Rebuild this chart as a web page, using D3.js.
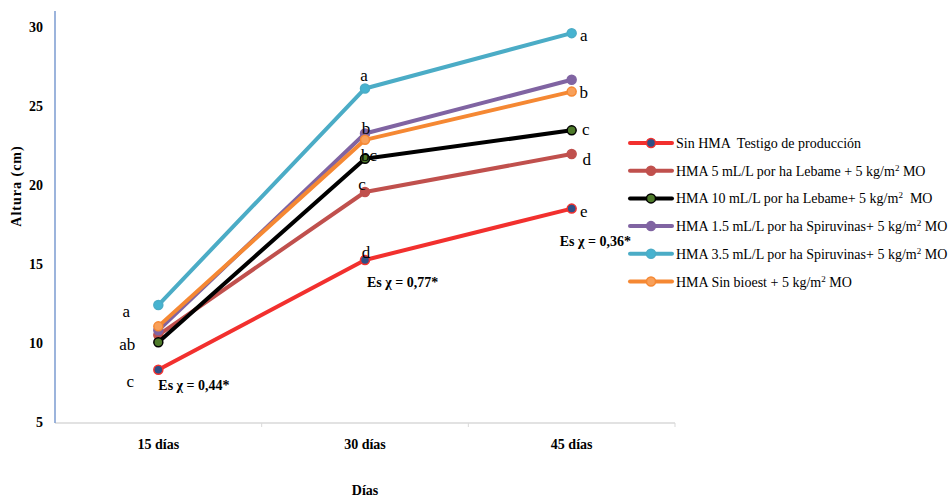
<!DOCTYPE html>
<html>
<head>
<meta charset="utf-8">
<script src="https://cdn.jsdelivr.net/npm/d3@7"></script>
<style>
  body { margin: 0; background: #fff; }
  text { font-family: "Liberation Serif", "Times New Roman", Times, serif; white-space: pre; }
</style>
</head>
<body>
<div id="chart"></div>
<script>
var categories = ["15 días", "30 días", "45 días"];

var seriesNames = [
  "Sin HMA  Testigo de producción",
  "HMA 5 mL/L por ha Lebame + 5 kg/m2 MO",
  "HMA 10 mL/L por ha Lebame+ 5 kg/m2  MO",
  "HMA 1.5 mL/L por ha Spiruvinas+ 5 kg/m2 MO",
  "HMA 3.5 mL/L por ha Spiruvinas+ 5 kg/m2 MO",
  "HMA Sin bioest + 5 kg/m2 MO"
];

var sinHMA     = [8.3, 15.25, 18.5];
var lebame5    = [10.5, 19.55, 21.95];
var lebame10   = [10.05, 21.65, 23.45];
var spiru15    = [10.8, 23.25, 26.65];
var spiru35    = [12.4, 26.1, 29.6];
var sinBioest  = [11.05, 22.85, 25.9];

var yTicks = [5, 10, 15, 20, 25, 30];

var letters15 = ["a", "ab", "c"];
var letters30 = ["a", "b", "bc", "c", "d"];
var letters45 = ["a", "b", "c", "d", "e"];
var esLabels = ["Es χ = 0,44*", "Es χ = 0,77*", "Es χ = 0,36*"];

var lineColors = ["#f2302e", "#c0504d", "#000000", "#8064a2", "#4bacc6", "#f58833"];
var dotFills   = ["#2f4f86", "#c0504d", "#4e7a2a", "#8064a2", "#46b3d0", "#f8a05a"];

var serif = "'Liberation Serif', 'Times New Roman', Times, serif";

var width = 949, height = 498;
var margin = {top: 11, left: 55, right: 274, bottom: 76};

var svg = d3.select("#chart").append("svg")
  .attr("width", width)
  .attr("height", height);

var x = d3.scaleBand()
  .domain(categories)
  .range([margin.left, width - margin.right]);

var y = d3.scaleLinear()
  .domain([5, 31])
  .range([height - margin.bottom, margin.top]);

// x axis line
var xAxis = svg.append("g")
  .attr("transform", "translate(0," + (height - margin.bottom + 1) + ")");
xAxis.append("line")
  .attr("x1", margin.left).attr("x2", width - margin.right)
  .attr("stroke", "#d9d9d9").attr("stroke-width", 1.5);
xAxis.selectAll(".xtick")
  .data(categories.slice(1).concat(["end"])).enter()
  .append("line")
    .attr("x1", function(d, i) { return x.range()[0] + x.bandwidth() * (i + 1); })
    .attr("x2", function(d, i) { return x.range()[0] + x.bandwidth() * (i + 1); })
    .attr("y1", 0).attr("y2", 4)
    .attr("stroke", "#d9d9d9");
xAxis.selectAll(".xlab")
  .data(categories).enter()
  .append("text")
    .attr("x", function(d) { return x(d) + x.bandwidth() / 2; })
    .attr("y", 26)
    .attr("text-anchor", "middle")
    .attr("font-family", serif)
    .attr("font-size", 14)
    .attr("font-weight", "bold")
    .text(function(d) { return d; });

// y axis
svg.append("line")
  .attr("x1", margin.left).attr("x2", margin.left)
  .attr("y1", margin.top).attr("y2", height - margin.bottom + 1)
  .attr("stroke", "#7b9bd1").attr("stroke-width", 1.5);
svg.selectAll(".ylab")
  .data(yTicks).enter()
  .append("text")
    .attr("x", 43)
    .attr("y", function(d) { return y(d) + 5; })
    .attr("text-anchor", "end")
    .attr("font-family", serif)
    .attr("font-size", 14)
    .attr("font-weight", "bold")
    .text(function(d) { return d; });

svg.append("text")
  .attr("transform", "translate(21,186) rotate(-90)")
  .attr("text-anchor", "middle")
  .attr("font-family", serif)
  .attr("font-size", 14)
  .attr("font-weight", "bold")
  .attr("letter-spacing", 1)
  .text("Altura (cm)");

svg.append("text")
  .attr("x", x("30 días") + x.bandwidth() / 2)
  .attr("y", 495)
  .attr("text-anchor", "middle")
  .attr("font-family", serif)
  .attr("font-size", 14)
  .attr("font-weight", "bold")
  .text("Días");

// series
var series = [sinHMA, lebame5, lebame10, spiru15, spiru35, sinBioest];
var drawOrder = [0, 1, 2, 3, 5, 4];

var line = d3.line()
  .x(function(d, i) { return x(categories[i]) + x.bandwidth() / 2; })
  .y(function(d) { return y(d); });

drawOrder.forEach(function(s) {
  svg.append("path")
    .datum(series[s])
    .attr("d", line)
    .attr("fill", "none")
    .attr("stroke", lineColors[s])
    .attr("stroke-width", 4)
    .attr("stroke-linejoin", "round");
  svg.selectAll(".dot" + s)
    .data(series[s]).enter()
    .append("circle")
      .attr("cx", function(d, i) { return x(categories[i]) + x.bandwidth() / 2; })
      .attr("cy", function(d) { return y(d); })
      .attr("r", 4.5)
      .attr("fill", dotFills[s])
      .attr("stroke", lineColors[s])
      .attr("stroke-width", 1.5);
});

// letters
var letterSize = 17;
function letter(cat, val, txt, dx, dy) {
  svg.append("text")
    .attr("x", x(cat) + x.bandwidth() / 2 + dx)
    .attr("y", y(val) + dy)
    .attr("text-anchor", "middle")
    .attr("font-family", serif)
    .attr("font-size", letterSize)
    .text(txt);
}
letter("15 días", spiru35[0], letters15[0], -32, 12);
letter("15 días", lebame10[0], letters15[1], -31, 8);
letter("15 días", sinHMA[0], letters15[2], -28, 17);

letter("30 días", spiru35[1], letters30[0], -1, -7);
letter("30 días", spiru15[1], letters30[1], 1, 0);
letter("30 días", lebame10[1], letters30[2], 4, 2);
letter("30 días", lebame5[1], letters30[3], -3, -2);
letter("30 días", sinHMA[1], letters30[4], 1, -2);

letter("45 días", spiru35[2], letters45[0], 12, 8);
letter("45 días", sinBioest[2], letters45[1], 12, 6);
letter("45 días", lebame10[2], letters45[2], 14, 5);
letter("45 días", lebame5[2], letters45[3], 15, 11);
letter("45 días", sinHMA[2], letters45[4], 12, 8);

// Es labels
var esPos = [[sinHMA[0], 0, 20], [sinHMA[1], 2, 27], [sinHMA[2], -12, 37]];
esLabels.forEach(function(t, i) {
  svg.append("text")
    .attr("x", x(categories[i]) + x.bandwidth() / 2 + esPos[i][1])
    .attr("y", y(esPos[i][0]) + esPos[i][2])
    .attr("font-family", serif)
    .attr("font-size", 14)
    .attr("font-weight", "bold")
    .text(t);
});

// legend
var legend = svg.append("g").attr("transform", "translate(630,143)");
var rowH = 27.7;
seriesNames.forEach(function(name, i) {
  var g = legend.append("g").attr("transform", "translate(0," + (i * rowH) + ")");
  g.append("line")
    .attr("x1", 0).attr("x2", 42)
    .attr("stroke", lineColors[i]).attr("stroke-width", 4)
    .attr("stroke-linecap", "round");
  g.append("circle")
    .attr("cx", 21).attr("r", 4.5)
    .attr("fill", dotFills[i]).attr("stroke", lineColors[i]).attr("stroke-width", 1.5);
  var t = g.append("text")
    .attr("x", 46).attr("y", 5)
    .attr("font-family", serif)
    .attr("font-size", 14);
  var parts = name.split("m2");
  if (parts.length > 1) {
    t.append("tspan").text(parts[0] + "m");
    t.append("tspan").attr("dy", -5).attr("font-size", 9).text("2");
    t.append("tspan").attr("dy", 5).text(parts[1]);
  } else {
    t.text(name);
  }
});
</script>
</body>
</html>
